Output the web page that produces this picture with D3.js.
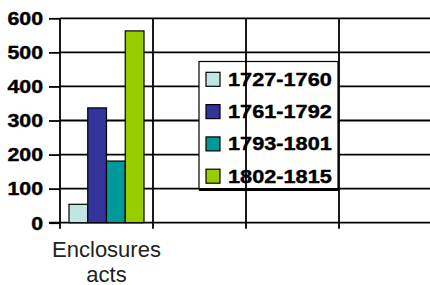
<!DOCTYPE html>
<html>
<head>
<meta charset="utf-8">
<script src="https://cdn.jsdelivr.net/npm/d3@7"></script>
<style>
  html, body { margin: 0; padding: 0; background: #fff; }
  svg { display: block; font-family: "Liberation Sans", Arial, sans-serif; }
</style>
</head>
<body>
<div id="chart"></div>
<script>
// data
const categories = ["Enclosures acts", "", "", ""];
const periods = ["1727-1760", "1761-1792", "1793-1801", "1802-1815"];
const values = [54, 337, 181, 563];
const colors = ["#bfe5e5", "#333399", "#009999", "#99cc00"];
const yTicks = [0, 100, 200, 300, 400, 500, 600];

const width = 430;
const height = 285;
const margin = { top: 18.3, left: 60, bottom: 62.3 };
const plotRight = 432;
const stretch = 1.22; // the picture's bold text is wide

const svg = d3.select("#chart")
  .append("svg")
  .attr("width", width)
  .attr("height", height)
  .style("background-color", "white");

const y = d3.scaleLinear([0, 600], [height - margin.bottom, margin.top]);
const x = d3.scaleBand(d3.range(categories.length), [margin.left, plotRight])
  .paddingInner(0).paddingOuter(0);
const xSub = d3.scaleBand(d3.range(periods.length), [0, x.bandwidth()])
  .paddingInner(0).paddingOuter(0.48);

// horizontal grid lines
svg.append("g")
  .selectAll("line")
  .data(yTicks.filter(d => d > 0))
  .join("line")
  .attr("x1", margin.left)
  .attr("x2", plotRight)
  .attr("y1", d => y(d))
  .attr("y2", d => y(d))
  .attr("stroke", "#000")
  .attr("stroke-width", 1.8);

// legend box (white, hides the horizontal grid)
const legend = { x: 199, y: 61.5, w: 139, h: 127.5, row: 32.3 };
svg.append("rect")
  .attr("x", legend.x)
  .attr("y", legend.y)
  .attr("width", legend.w)
  .attr("height", legend.h)
  .attr("fill", "#fff");

// vertical grid lines at category edges
const edges = d3.range(categories.length + 1).map(i => i < categories.length ? x(i) : x(i - 1) + x.bandwidth());
svg.append("g")
  .selectAll("line")
  .data(edges.slice(1))
  .join("line")
  .attr("x1", d => d)
  .attr("x2", d => d)
  .attr("y1", y(600))
  .attr("y2", y(0) + 6)
  .attr("stroke", "#000")
  .attr("stroke-width", 1.8);

// y axis
const yAxis = d3.axisLeft(y).tickValues(yTicks).tickSize(11).tickSizeOuter(0);
const gY = svg.append("g")
  .attr("transform", `translate(${margin.left},0)`)
  .call(yAxis);
gY.select(".domain").remove();
gY.selectAll(".tick line").attr("stroke", "#000").attr("stroke-width", 1.8);
gY.selectAll("text")
  .attr("x", -17 / stretch)
  .attr("dy", "0.36em")
  .attr("transform", `scale(${stretch},1)`)
  .attr("fill", "#000")
  .attr("stroke", "#000")
  .attr("stroke-width", 0.4)
  .style("font-size", "17.5px")
  .style("font-weight", "bold");
gY.append("line")
  .attr("x1", 0).attr("x2", 0)
  .attr("y1", y(600)).attr("y2", y(0) + 6)
  .attr("stroke", "#000")
  .attr("stroke-width", 1.8);

// baseline
svg.append("line")
  .attr("x1", margin.left - 11)
  .attr("x2", plotRight)
  .attr("y1", y(0))
  .attr("y2", y(0))
  .attr("stroke", "#000")
  .attr("stroke-width", 1.8);

// bars
svg.append("g")
  .selectAll("rect")
  .data(values)
  .join("rect")
  .attr("x", (d, i) => x(0) + xSub(i))
  .attr("y", d => y(d))
  .attr("width", xSub.bandwidth())
  .attr("height", d => y(0) - y(d))
  .attr("fill", (d, i) => colors[i])
  .attr("stroke", "#000")
  .attr("stroke-width", 1.2);

// category labels
categories.forEach((c, i) => {
  if (!c) return;
  const words = c.split(" ");
  const t = svg.append("text")
    .attr("text-anchor", "middle")
    .attr("fill", "#222")
    .style("font-size", "22px");
  words.forEach((w, j) => {
    t.append("tspan")
      .attr("x", x(i) + x.bandwidth() / 2)
      .attr("y", 256.5 + j * 25)
      .text(w);
  });
});

// legend border and entries
svg.append("rect")
  .attr("x", legend.x)
  .attr("y", legend.y)
  .attr("width", legend.w)
  .attr("height", legend.h)
  .attr("fill", "none")
  .attr("stroke", "#000")
  .attr("stroke-width", 1.2);
svg.append("line")
  .attr("x1", legend.x)
  .attr("x2", legend.x + legend.w)
  .attr("y1", legend.y + legend.h + 0.5)
  .attr("y2", legend.y + legend.h + 0.5)
  .attr("stroke", "#000")
  .attr("stroke-width", 3);

const items = svg.append("g")
  .selectAll("g")
  .data(periods)
  .join("g")
  .attr("transform", (d, i) => `translate(${legend.x}, ${legend.y + 17.8 + i * legend.row})`);
items.append("rect")
  .attr("x", 7)
  .attr("y", -7)
  .attr("width", 14)
  .attr("height", 14)
  .attr("fill", (d, i) => colors[i])
  .attr("stroke", "#000")
  .attr("stroke-width", 1.2);
items.append("text")
  .attr("transform", `translate(29,0) scale(${stretch},1)`)
  .attr("dy", "0.36em")
  .attr("fill", "#000")
  .attr("stroke", "#000")
  .attr("stroke-width", 0.4)
  .style("font-size", "17.8px")
  .style("font-weight", "bold")
  .text(d => d);
</script>
</body>
</html>
